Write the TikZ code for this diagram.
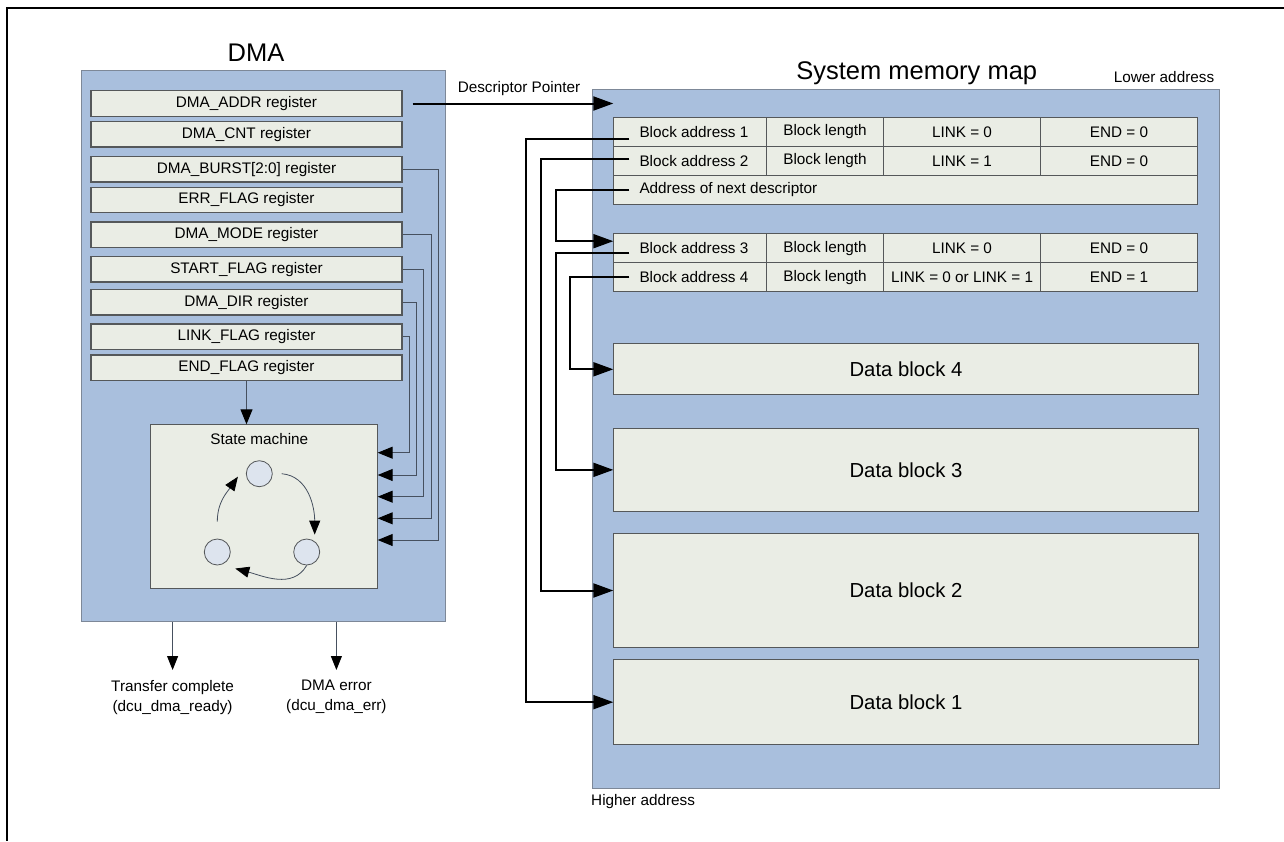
\documentclass[tikz,border=0pt]{standalone}
\usepackage{fontspec}
\setmainfont{Liberation Sans}
\usetikzlibrary{arrows.meta}

\begin{document}
\begin{tikzpicture}[
	x=1pt, y=1pt,
	panel/.style={draw=panelline, fill=panelblue, line width=1pt, inner sep=0pt, anchor=north west},
	regbox/.style={draw=boxline, fill=boxfill, line width=1.2pt, inner sep=0pt, minimum width=311pt, minimum height=25.5pt, font=\fontsize{15.3}{18}\selectfont},
	cell/.style={draw=boxline, fill=boxfill, line width=1pt, inner sep=0pt, outer sep=0pt, minimum height=29pt, anchor=north west, font=\fontsize{15.3}{18}\selectfont},
	celltext/.style={inner xsep=10pt, inner ysep=0pt, anchor=west, font=\fontsize{15.3}{18}\selectfont},
	datablock/.style={draw=boxline, fill=boxfill, line width=1pt, inner sep=0pt, minimum width=584.4pt, anchor=north west, font=\fontsize{20.3}{24}\selectfont},
	state/.style={circle, draw=boxline, fill=statefill, line width=0.8pt, minimum size=26pt, inner sep=0pt},
	title/.style={font=\fontsize{25.5}{30}\selectfont, inner sep=0pt},
	plain/.style={font=\fontsize{15.3}{18}\selectfont, inner sep=0pt},
	outlabel/.style={font=\fontsize{15.3}{20}\selectfont, align=center, inner xsep=0pt, inner ysep=10pt, anchor=north},
	bus/.style={draw=busline, line width=1pt, -{Triangle[length=15pt, width=12pt, color=black]}},
	smarrow/.style={draw=busline, line width=0.8pt, -{Triangle[length=14pt, width=11pt, color=black]}},
	link/.style={draw=black, line width=2pt, -{Triangle[length=20pt, width=14pt]}}
	]
	% Define colors
	\definecolor{panelblue}{RGB}{169,191,221}
	\definecolor{panelline}{RGB}{125,136,152}
	\definecolor{boxfill}{RGB}{234,237,229}
	\definecolor{boxline}{RGB}{85,88,90}
	\definecolor{statefill}{RGB}{221,228,238}
	\definecolor{busline}{RGB}{70,80,95}

	\useasboundingbox (0,0) rectangle (1284,-841);
	% Frame
	\draw[line width=2.5pt] (1284,-8) -- (7,-8) -- (7,-841);

	% DMA side
	\node[title] (dmatitle) at (256,-53) {DMA};
	\node[panel, minimum width=364pt, minimum height=551pt] (dma) at (81,-70) {};

	% Registers
	\node[regbox] (addr) at (246.5,-103.5) {DMA\_ADDR register};
	\node[regbox] (cnt) at (246.5,-134.3) {DMA\_CNT register};
	\node[regbox] (burst) at (246.5,-169.2) {DMA\_BURST[2:0] register};
	\node[regbox] (errf) at (246.5,-200) {ERR\_FLAG register};
	\node[regbox] (mode) at (246.5,-234.8) {DMA\_MODE register};
	\node[regbox] (startf) at (246.5,-269.3) {START\_FLAG register};
	\node[regbox] (dir) at (246.5,-302.2) {DMA\_DIR register};
	\node[regbox] (linkf) at (246.5,-336.8) {LINK\_FLAG register};
	\node[regbox] (endf) at (246.5,-367.7) {END\_FLAG register};

	% State machine
	\node[draw=boxline, fill=boxfill, line width=1pt, inner sep=0pt, minimum width=226.7pt, minimum height=164pt, anchor=north west] (sm) at (150,-424.3) {};
	\node[plain] (smlabel) at (259.3,-439.3) {State machine};
	\node[state] (s1) at (259.3,-473.7) {};
	\node[state] (s2) at (306.7,-552) {};
	\node[state] (s3) at (217.3,-552) {};
	\draw[smarrow] ([xshift=9pt]s1.east) to[out=-5, in=90] ([shift={(8,4)}]s2.north);
	\draw[smarrow] (s2.south) to[out=-120, in=-15] ([shift={(7.7,-7.9)}]s3.-40);
	\draw[smarrow] ([yshift=17pt]s3.north) to[out=90, in=-125] ([shift={(-8,-3)}]s1.west);

	% Register lines into the state machine
	\draw[bus] (endf.south) -- (endf.south |- sm.north);
	\draw[bus] (linkf.east) -| (409.3,-452.7) -- (sm.east |- 0,-452.7);
	\draw[bus] (dir.east) -| (416,-475) -- (sm.east |- 0,-475);
	\draw[bus] (startf.east) -| (423.3,-496.7) -- (sm.east |- 0,-496.7);
	\draw[bus] (mode.east) -| (431,-518.3) -- (sm.east |- 0,-518.3);
	\draw[bus] (burst.east) -| (438.3,-540) -- (sm.east |- 0,-540);

	% Outputs
	\node[outlabel] (rdy) at (172.6,-670) {Transfer complete\\(dcu\_dma\_ready)};
	\node[outlabel] (err) at (336.4,-670) {DMA error\\(dcu\_dma\_err)};
	\draw[smarrow, line width=1pt] (dma.south -| rdy.north) -- (rdy.north);
	\draw[smarrow, line width=1pt] (dma.south -| err.north) -- (err.north);

	% Memory side
	\node[title] (memtitle) at (916.7,-73.3) {System memory map};
	\node[plain] (lower) at (1164,-77.3) {Lower address};
	\node[panel, minimum width=627.6pt, minimum height=699pt] (mem) at (591.7,-89.3) {};
	\node[plain, anchor=west] (higher) at (591,-801.7) {Higher address};

	% First descriptor
	\node[cell, minimum width=153.4pt] (c1a) at (613.3,-117.5) {};
	\node[cell, minimum width=116.6pt] (c1l) at (c1a.north east) {Block length};
	\node[cell, minimum width=157.4pt] (c1k) at (c1l.north east) {LINK = 0};
	\node[cell, minimum width=156.6pt] (c1e) at (c1k.north east) {END = 0};
	\node[cell, minimum width=153.4pt] (c2a) at (c1a.south west) {};
	\node[cell, minimum width=116.6pt] (c2l) at (c2a.north east) {Block length};
	\node[cell, minimum width=157.4pt] (c2k) at (c2l.north east) {LINK = 1};
	\node[cell, minimum width=156.6pt] (c2e) at (c2k.north east) {END = 0};
	\node[cell, minimum width=584pt] (cnext) at (c2a.south west) {};
	\node[celltext] (ba1) at (629.3,-132) {Block address 1};
	\node[celltext] (ba2) at (629.3,-161) {Block address 2};
	\node[celltext] (nd) at (629.3,-190) {Address of next descriptor};

	% Second descriptor
	\node[cell, minimum width=153.4pt] (c3a) at (613.3,-233.7) {};
	\node[cell, minimum width=116.6pt] (c3l) at (c3a.north east) {Block length};
	\node[cell, minimum width=157.4pt] (c3k) at (c3l.north east) {LINK = 0};
	\node[cell, minimum width=156.6pt] (c3e) at (c3k.north east) {END = 0};
	\node[cell, minimum width=153.4pt] (c4a) at (c3a.south west) {};
	\node[cell, minimum width=116.6pt] (c4l) at (c4a.north east) {Block length};
	\node[cell, minimum width=157.4pt] (c4k) at (c4l.north east) {LINK = 0 or LINK = 1};
	\node[cell, minimum width=156.6pt] (c4e) at (c4k.north east) {END = 1};
	\node[celltext] (ba3) at (629.3,-248.2) {Block address 3};
	\node[celltext] (ba4) at (629.3,-277.3) {Block address 4};

	% Data blocks
	\node[datablock, minimum height=51pt] (db4) at (613.3,-343.3) {Data block 4};
	\node[datablock, minimum height=83.3pt] (db3) at (613.3,-427.7) {Data block 3};
	\node[datablock, minimum height=114.6pt] (db2) at (613.3,-532.7) {Data block 2};
	\node[datablock, minimum height=85.3pt] (db1) at (613.3,-659) {Data block 1};

	% Pointers
	\draw[link] ([xshift=10pt]addr.east) -- (addr.east -| c1a.west) node[plain, pos=0.53, above=7pt] (dptr) {Descriptor Pointer};
	\coordinate (t2in) at ([yshift=7pt]c3a.west);
	\draw[link] ([yshift=-7pt]ba1.west) -| (db1.west -| 525.7,0) -- (db1.west);
	\draw[link] ([yshift=2pt]ba2.west) -| (db2.west -| 541,0) -- (db2.west);
	\draw[link] (nd.west) -| (t2in -| 555.7,0) -- (t2in);
	\draw[link] ([yshift=-5pt]ba3.west) -| (db3.west -| 555.7,0) -- (db3.west);
	\draw[link] (ba4.west) -| (db4.west -| 570,0) -- (db4.west);
\end{tikzpicture}
\end{document}
